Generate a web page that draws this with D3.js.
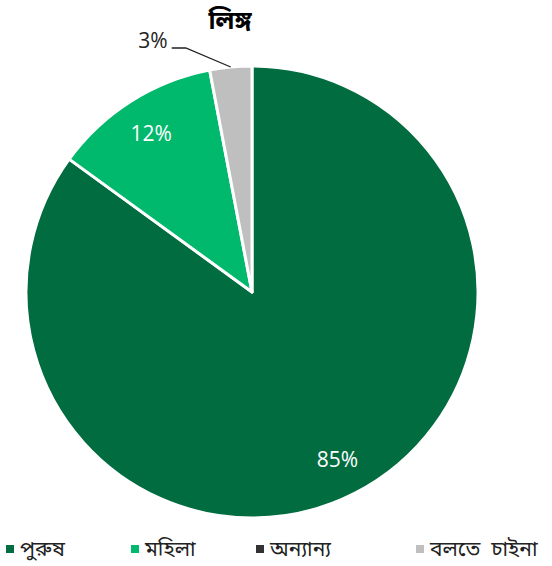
<!DOCTYPE html>
<html lang="bn">
<head>
  <meta charset="UTF-8">
  <title>লিঙ্গ</title>
  <script src="https://d3js.org/d3.v7.min.js"></script>
  <style>
    body {
      margin: 0;
      background: #fff;
      font-family: "Noto Sans Bengali", "Noto Sans", "DejaVu Sans", sans-serif;
    }
    svg { display: block; }
    .title { font-size: 25px; font-weight: bold; }
    .pct { font-family: "Open Sans", "Noto Sans", sans-serif; font-size: 21px; }
    .legend text { font-size: 21px; fill: #222; }
  </style>
</head>
<body>
  <svg width="552" height="566"></svg>

  <script>
    const categories = ["পুরুষ", "মহিলা", "অন্যান্য", "বলতে  চাইনা"];
    const values = [85, 12, 0, 3];
    const colorList = ["#006c3f", "#00b96c", "#333333", "#bfbfbf"];

    const svg = d3.select("svg");
    const cx = 252, cy = 292, radius = 226;

    const color = d3.scaleOrdinal().domain(categories).range(colorList);

    const data = categories.map((c, i) => ({ name: c, value: values[i] }));
    const pie = d3.pie().sort(null).value(d => d.value);
    const arcs = pie(data);

    const arc = d3.arc().innerRadius(0).outerRadius(radius);
    const labelArc = d3.arc().innerRadius(188).outerRadius(188);

    // Title
    svg.append("text")
      .attr("class", "title")
      .attr("x", 230)
      .attr("y", 29)
      .attr("text-anchor", "middle")
      .text("লিঙ্গ");

    const g = svg.append("g").attr("transform", `translate(${cx},${cy})`);

    g.selectAll("path")
      .data(arcs.filter(d => d.value > 0))
      .enter().append("path")
      .attr("d", arc)
      .attr("fill", d => color(d.data.name))
      .attr("stroke", "#fff")
      .attr("stroke-width", 3)
      .attr("stroke-linejoin", "round");

    // Labels inside the large slices
    arcs.filter(d => d.value >= 10).forEach(d => {
      const [lx, ly] = labelArc.centroid(d);
      g.append("text")
        .attr("class", "pct")
        .attr("x", lx)
        .attr("y", ly)
        .attr("dy", "0.35em")
        .attr("text-anchor", "middle")
        .attr("fill", "#fff")
        .text(d.value + "%");
    });

    // Small slice: outside label with leader
    arcs.filter(d => d.value > 0 && d.value < 10).forEach(d => {
      const mid = (d.startAngle + d.endAngle) / 2;
      const p0 = [Math.sin(mid) * radius, -Math.cos(mid) * radius];
      const knee = [p0[0] - 45, -244];
      const end = [knee[0] - 14, knee[1]];
      g.append("polyline")
        .attr("points", [p0, knee, end].map(p => p.join(",")).join(" "))
        .attr("fill", "none")
        .attr("stroke", "#222")
        .attr("stroke-width", 1.3);
      g.append("text")
        .attr("class", "pct")
        .attr("x", end[0] - 4)
        .attr("y", end[1])
        .attr("text-anchor", "end")
        .attr("fill", "#222")
        .text(d.value + "%");
    });

    // Legend
    const legendX = [6, 131, 256, 416];
    const legend = svg.append("g").attr("class", "legend");
    categories.forEach((c, i) => {
      const item = legend.append("g").attr("transform", `translate(${legendX[i]},549)`);
      item.append("rect")
        .attr("x", 0).attr("y", -4)
        .attr("width", 8).attr("height", 8)
        .attr("fill", color(c));
      item.append("text")
        .attr("x", 14)
        .attr("y", 0)
        .attr("dy", "0.35em")
        .style("white-space", "pre")
        .text(c);
    });
  </script>
</body>
</html>
